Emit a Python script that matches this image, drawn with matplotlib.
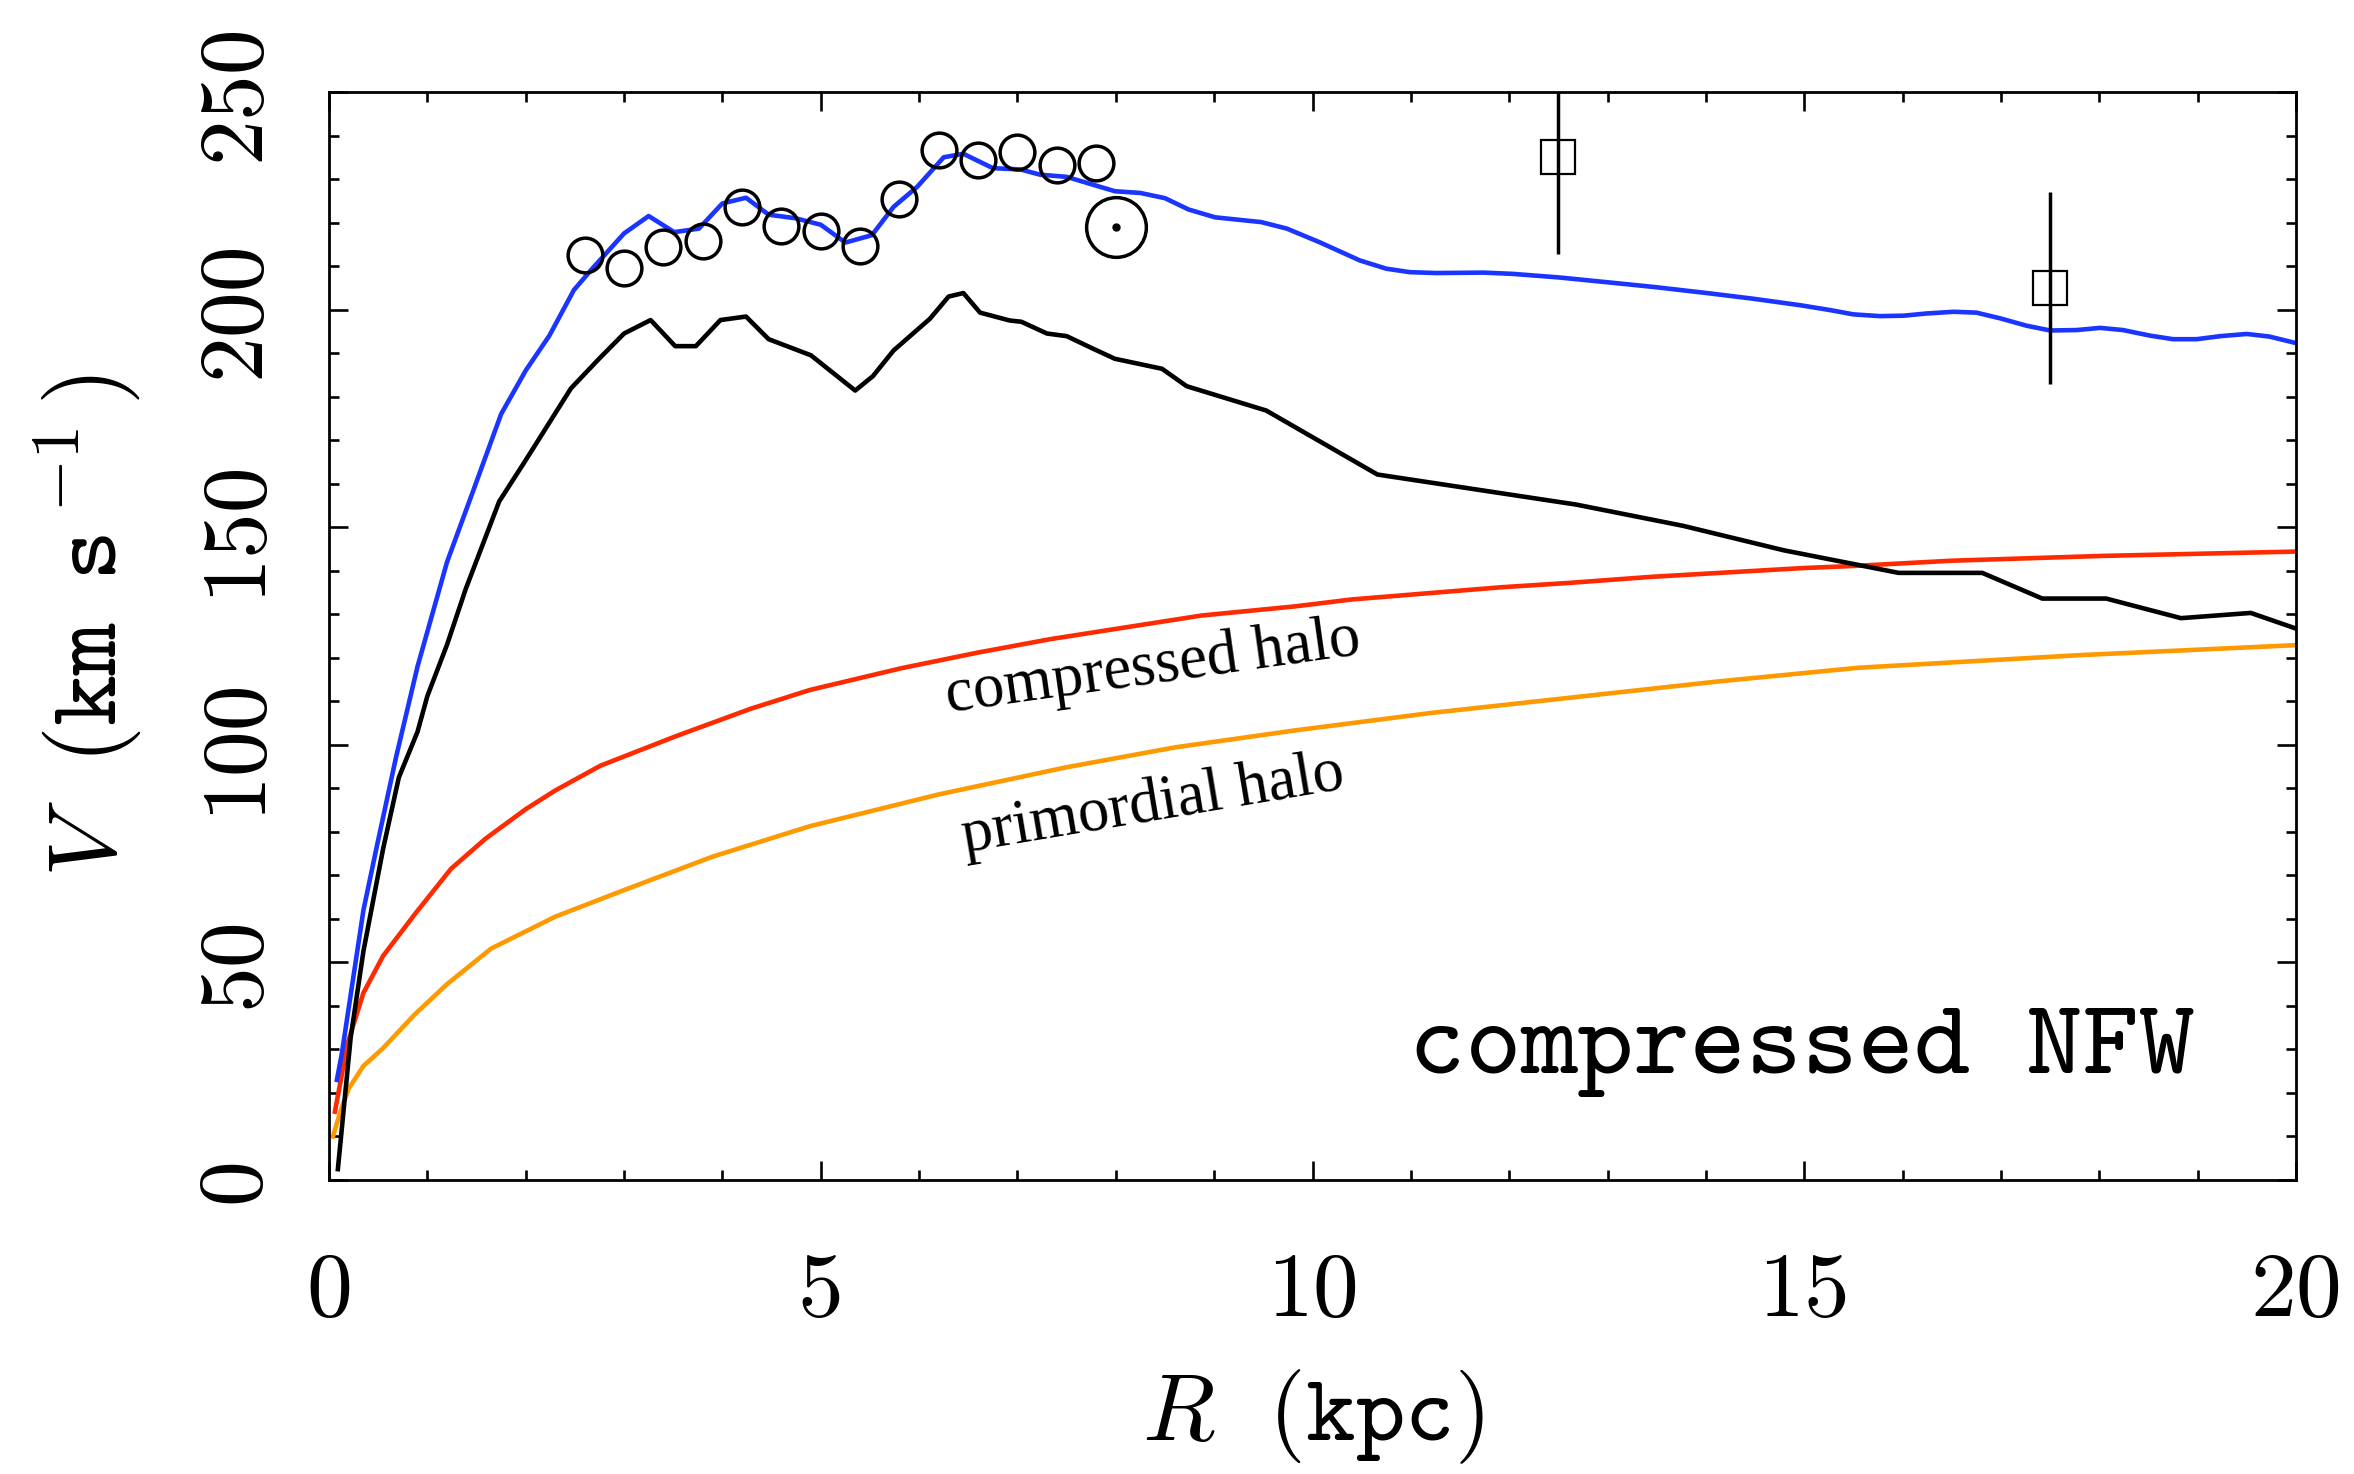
import matplotlib
matplotlib.use("Agg")
import matplotlib.pyplot as plt

plt.rcParams['mathtext.fontset'] = 'cm'
plt.rcParams['axes.formatter.use_mathtext'] = True

# total rotation curve (blue)
total_r = [0.08, 0.13, 0.35, 0.48, 0.68, 0.90, 1.20, 1.46, 1.75, 2.00, 2.24, 2.49,
           2.68, 3.00, 3.25, 3.51, 3.76, 4.00, 4.24, 4.47, 4.74, 5.00, 5.25, 5.52,
           5.74, 5.98, 6.25, 6.45, 6.75, 7.03, 7.23, 7.50, 7.99, 8.25, 8.50, 8.74,
           9.01, 9.48, 9.74, 10.08, 10.48, 10.75, 10.99, 11.26, 11.74, 12.04, 12.50,
           12.99, 13.47, 14.01, 14.48, 14.96, 15.26, 15.50, 15.77, 16.01, 16.24,
           16.52, 16.75, 16.99, 17.26, 17.50, 17.77, 18.01, 18.24, 18.52, 18.75,
           18.99, 19.23, 19.50, 19.73, 20.00]
total_v = [23, 29, 62, 76, 97, 118, 142, 158, 176, 186, 194, 204.5,
           209.5, 217.5, 221.5, 217.8, 218.6, 224.4, 225.7, 221.8, 221.0, 219.5, 215.4, 217.1,
           223.6, 228.2, 235.0, 235.8, 232.5, 232.2, 231.0, 230.5, 227.2, 226.8, 225.6, 223.0,
           221.2, 220.1, 218.6, 215.4, 211.3, 209.4, 208.6, 208.4, 208.5, 208.2, 207.4,
           206.3, 205.2, 203.8, 202.5, 201.0, 199.9, 198.9, 198.5, 198.6, 199.1,
           199.5, 199.3, 198.0, 196.3, 195.2, 195.3, 195.8, 195.3, 194.0, 193.2,
           193.2, 193.9, 194.4, 193.8, 192.3]

# baryons (black)
bary_r = [0.09, 0.22, 0.35, 0.55, 0.71, 0.90, 1.00, 1.20, 1.39, 1.73, 2.00, 2.46,
          2.75, 3.00, 3.27, 3.52, 3.73, 3.98, 4.24, 4.47, 4.90, 5.35, 5.53, 5.74,
          6.11, 6.30, 6.45, 6.62, 6.92, 7.04, 7.30, 7.50, 7.77, 7.99, 8.47, 8.72,
          9.53, 10.66, 12.68, 13.77, 14.79, 15.96, 16.81, 17.42, 18.07, 18.83, 19.54, 20.00]
bary_v = [2.5, 32.7, 52.6, 76.1, 92.5, 103, 111.2, 123, 135.8, 155.9, 165.4, 181.9,
          188.8, 194.5, 197.6, 191.6, 191.6, 197.6, 198.4, 193.2, 189.5, 181.4, 184.7, 190.6,
          197.9, 203.0, 203.8, 199.3, 197.5, 197.2, 194.5, 193.9, 191.0, 188.7, 186.4, 182.4,
          176.8, 162.1, 155.2, 150.3, 144.7, 139.5, 139.5, 133.6, 133.6, 129.1, 130.3, 126.7]

# compressed halo (red)
comp_r = [0.06, 0.19, 0.35, 0.55, 0.87, 1.24, 1.59, 2.00, 2.30, 2.76, 3.53, 4.29,
          4.89, 5.82, 6.60, 7.34, 8.87, 9.82, 10.40, 11.92, 12.61, 13.45, 14.98,
          15.51, 16.50, 18.03, 20.0]
comp_v = [15.7, 31.5, 43, 51.5, 61, 71.5, 78.4, 85.2, 89.5, 95.2, 102, 108.3,
          112.6, 117.6, 121.2, 124.3, 129.7, 131.8, 133.4, 136.2, 137.2, 138.6, 140.6,
          141.1, 142.3, 143.4, 144.4]

# primordial halo (orange)
prim_r = [0.04, 0.12, 0.20, 0.35, 0.55, 0.87, 1.20, 1.65, 2.30, 3.01, 3.90, 4.89,
          6.20, 7.49, 8.60, 9.82, 11.20, 12.61, 14.10, 15.55, 17.80, 20.0]
prim_v = [10, 16, 21, 26.2, 30.3, 38, 45, 53.2, 60.5, 66.7, 74.3, 81.3,
          88.6, 94.8, 99.4, 103.3, 107.3, 110.8, 114.5, 117.7, 120.6, 122.9]

# observed points
circ_r = [2.6, 3.0, 3.4, 3.8, 4.2, 4.6, 5.0, 5.4, 5.8, 6.2, 6.6, 7.0, 7.4, 7.8]
circ_v = [212.5, 209.6, 214.3, 215.7, 223.6, 219.3, 218.0, 214.5, 225.3, 236.7,
          234.3, 236.2, 233.2, 233.7]
sq_r = [12.5, 17.5]
sq_v = [235.0, 205.0]
sq_err = [22.3, 22.1]
sun_r = [8.0]
sun_v = [219.0]

x_ticks = [0, 5, 10, 15, 20]
y_ticks = [0, 50, 100, 150, 200, 250]

fig = plt.figure(figsize=(23.54, 14.74), dpi=100)
ax = fig.add_axes([0.13977, 0.19946, 0.83560, 0.73813])

lw = 3.3
ax.plot(prim_r, prim_v, color='#ff9900', lw=lw)
ax.plot(comp_r, comp_v, color='#ff2a00', lw=lw)
ax.plot(bary_r, bary_v, color='black', lw=lw)
ax.plot(total_r, total_v, color='#1a35ff', lw=lw)

ax.plot(circ_r, circ_v, 'o', ms=25, mfc='none', mec='black', mew=2.5)
ax.plot(sun_r, sun_v, 'o', ms=43, mfc='none', mec='black', mew=2.5)
ax.plot(sun_r, sun_v, 'o', ms=5, mfc='black', mec='black')
ax.errorbar(sq_r, sq_v, yerr=sq_err, fmt='s', ms=24, mfc='none', mec='black',
            mew=1.6, ecolor='black', elinewidth=2.5, capsize=0)

ax.text(8.38, 117.6, 'compressed halo', family='Liberation Serif', fontsize=45,
        rotation=8, rotation_mode='anchor', ha='center', va='center')
ax.text(8.38, 86.2, 'primordial halo', family='Liberation Serif', fontsize=45,
        rotation=9.5, rotation_mode='anchor', ha='center', va='center')
ax.text(0.749, 0.098, 'compressed NFW', family='cmtt10', fontsize=77,
        ha='center', va='baseline', transform=ax.transAxes)

ax.set_xlim(0, 20)
ax.set_ylim(0, 250)
ax.set_xticks(x_ticks)
ax.set_xticklabels([str(t) for t in x_ticks])
ax.set_yticks(y_ticks)
ax.set_yticklabels([str(t) for t in y_ticks])
ax.set_xticks(range(0, 21), minor=True)
ax.set_yticks(range(0, 251, 10), minor=True)

ax.tick_params(which='both', direction='in', top=True, right=True, width=1.9)
ax.tick_params(which='major', length=13.7)
ax.tick_params(which='minor', length=7.5)
ax.tick_params(axis='x', which='major', pad=52, labelsize=66)
ax.tick_params(axis='y', which='major', pad=38, labelsize=66, labelrotation=90)
for lab in ax.get_xticklabels() + ax.get_yticklabels():
    lab.set_family('cmr10')
for lab in ax.get_yticklabels():
    lab.set_va('center')
for sp in ax.spines.values():
    sp.set_linewidth(2)

ax.set_xlabel(r'$R\ \ \mathtt{(kpc)}$', fontsize=68)
ax.set_ylabel(r'$V\ \ \mathtt{(km\enspace s}\,^{\mathtt{-1}}\,\mathtt{)}$', fontsize=70)
ax.xaxis.set_label_coords(0.5, -0.172)
ax.yaxis.set_label_coords(-0.094, 0.51)

fig.savefig('out.png', dpi=100)
